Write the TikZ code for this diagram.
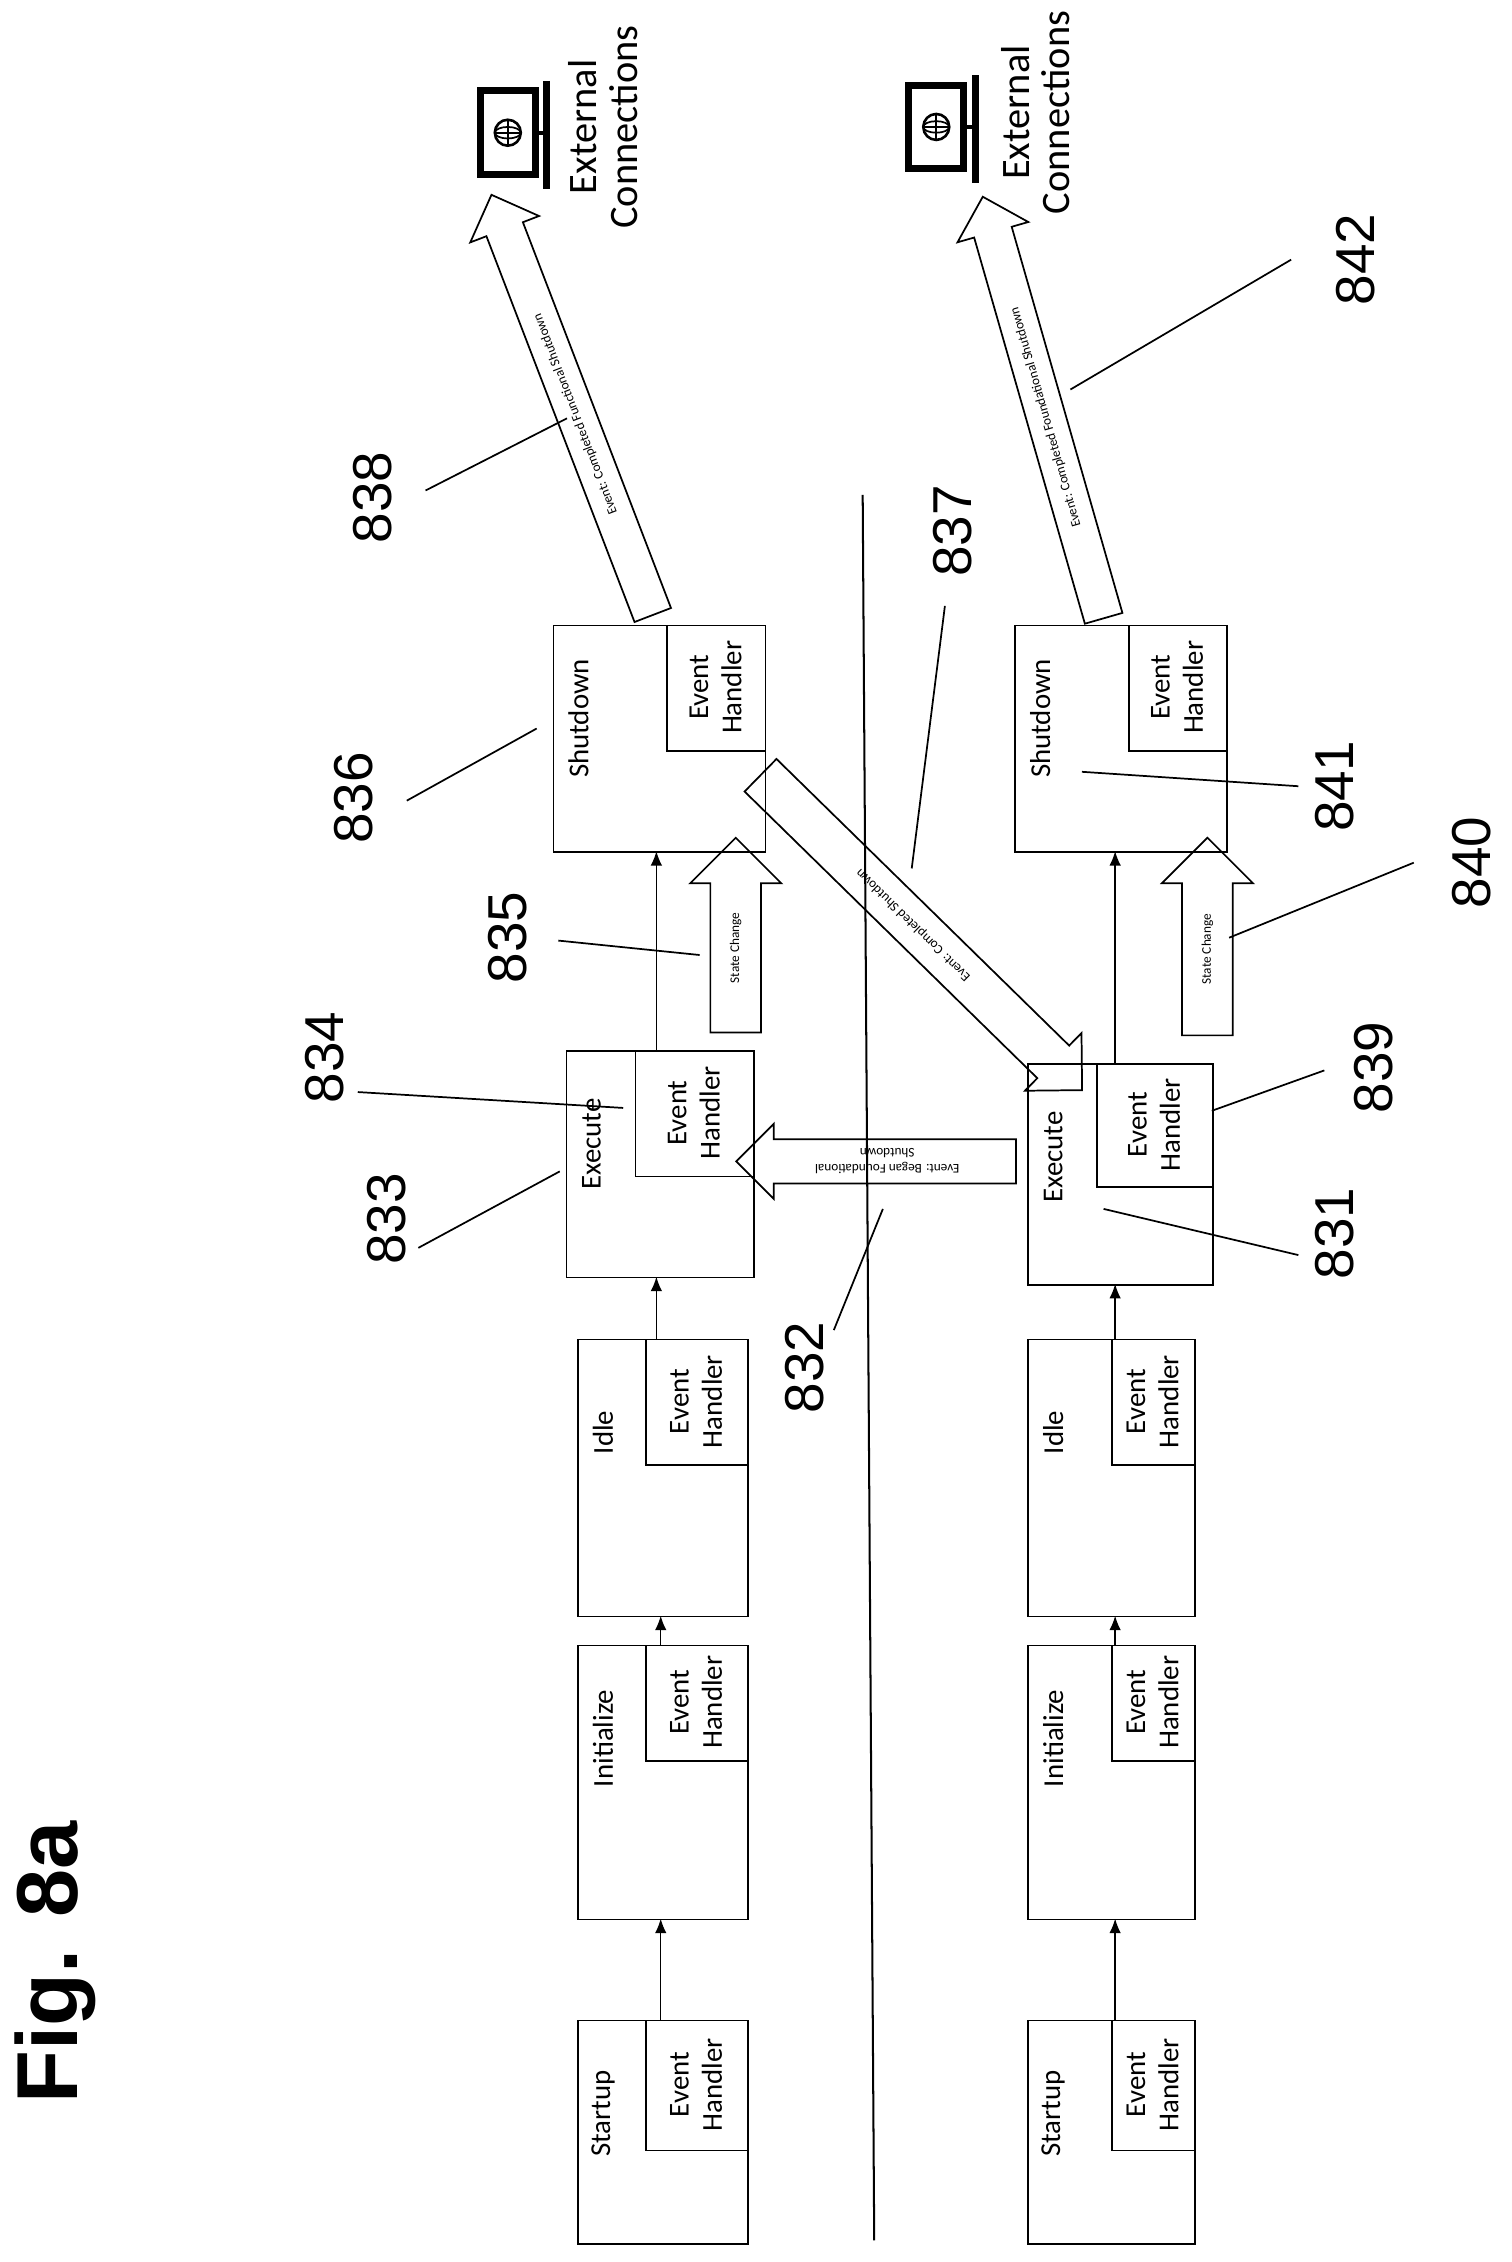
\documentclass[tikz,border=0pt]{standalone}
\usepackage{fontspec}
\setmainfont{Carlito}
\newfontfamily\numfont{Liberation Sans}
\usetikzlibrary{shapes.arrows,arrows.meta}
\begin{document}
\begin{tikzpicture}[x=0.5pt,y=-0.5pt,
  box/.style={draw,line width=0.6pt,inner sep=0,anchor=north west},
  lbl/.style={rotate=90,font=\fontsize{10}{11}\selectfont},
  eh/.style={rotate=90,font=\fontsize{10}{11.5}\selectfont,align=center},
  num/.style={rotate=90,font=\numfont\fontsize{19}{20}\selectfont},
  lead/.style={line width=0.6pt},
  conn/.style={line width=0.5pt,-{Latex[length=5pt,width=4pt]}},
  harrow/.style={single arrow,draw,line width=0.6pt,inner xsep=2pt,
     font=\fontsize{4.6}{5.5}\selectfont,align=center}
]
\useasboundingbox (0,0) rectangle (1048,1568);
\newcommand\stbox[8]{%
  \node[box,minimum width={(#4-#2)*0.5pt},minimum height={(#5-#3)*0.5pt}] (#1) at (#2,#3) {};
  \node[box,minimum width={(#4-#6)*0.5pt},minimum height={(#7-#3)*0.5pt}] (#1h) at (#6,#3) {};
  \node[lbl] (#1l) at (#2+18,#3+65) {#8};
  \node[eh] (#1t) at ({(#6+#4)/2},{(#3+#7)/2}) {Event\\Handler};
}
\stbox{s1}{400}{1400}{518}{1555}{447}{1490}{Startup}
\stbox{i1}{400}{1140}{518}{1330}{447}{1220}{Initialize}
\stbox{d1}{400}{928}{518}{1120}{447}{1015}{Idle}
\stbox{e1}{392}{728}{522}{885}{440}{815}{Execute}
\stbox{h1}{383}{433}{530}{590}{462}{520}{Shutdown}
\stbox{s2}{712}{1400}{828}{1555}{770}{1490}{Startup}
\stbox{i2}{712}{1140}{828}{1330}{770}{1220}{Initialize}
\stbox{d2}{712}{928}{828}{1120}{770}{1015}{Idle}
\stbox{e2}{712}{737}{840}{890}{760}{822}{Execute}
\stbox{h2}{703}{433}{850}{590}{782}{520}{Shutdown}
\draw[conn] (458,1400) -- (458,1330);
\draw[conn] (458,1140) -- (458,1120);
\draw[conn] (455,928) -- (455,885);
\draw[conn] (455,728) -- (455,590);
\draw[conn] (773,1400) -- (773,1330);
\draw[conn] (773,1140) -- (773,1120);
\draw[conn] (773,928) -- (773,890);
\draw[conn] (773,737) -- (773,590);
\draw[line width=0.7pt] (598,343) -- (606,1553);
\node[harrow,rotate=90,minimum height=67.5pt,minimum width=30pt,single arrow head extend=7pt,inner ysep=6.5pt] (sc1) at (510,657) {State Change};
\node[harrow,rotate=90,minimum height=68.5pt,minimum width=30pt,single arrow head extend=7pt,inner ysep=6.5pt] (sc2) at (837,658) {State Change};
\node[harrow,rotate=180,minimum height=97pt,minimum width=26pt,single arrow head extend=5pt,inner ysep=2.5pt] (bf) at (615,805) {Event: Began Foundational\\Shutdown};
\node[harrow,rotate=-44.4,minimum height=156pt,minimum width=28pt,single arrow head extend=6pt,inner ysep=5.5pt] (cs) at (633,641) {\rotatebox{180}{Event: Completed Shutdown}};
\node[harrow,rotate=111,minimum height=156pt,minimum width=25pt,single arrow head extend=6pt,inner ysep=4.5pt] (ef) at (399,287) {Event: Completed Functional Shutdown};
\node[harrow,rotate=106,minimum height=152pt,minimum width=25pt,single arrow head extend=6pt,inner ysep=4.5pt] (eo) at (725,289) {Event: Completed Foundational Shutdown};
\newcommand\icon[3]{%
  \draw[line width=2.5pt] (#1,#2) rectangle (#1+38,#2+58);
  \draw[line width=2.5pt] (#1+46,#2-7) -- (#1+46,#2+68);
  \draw[line width=1.5pt] (#1+38,#2+29) -- (#1+46,#2+29);
  \draw[line width=0.9pt] (#1+19,#2+29) circle (9);
  \draw[line width=0.7pt] (#1+10,#2+29) -- (#1+28,#2+29) (#1+19,#2+20) -- (#1+19,#2+38);
  \draw[line width=0.6pt] (#1+19,#2+29) ellipse (9 and 4);
  \coordinate (#3) at (#1+19,#2+29);
}
\icon{333}{63}{ic1}
\icon{630}{59}{ic2}
\node[rotate=90,align=center,font=\fontsize{14}{14}\selectfont] (ex1) at (418,88) {External\\Connections};
\node[rotate=90,align=center,font=\fontsize{14}{14}\selectfont] (ex2) at (718,78) {External\\Connections};
\node[rotate=90,font=\numfont\bfseries\fontsize{30}{30}\selectfont] (fig) at (38,1360) {Fig. 8a};
\node[num] (n838) at (258,345) {838};
\node[num] (n836) at (245,553) {836};
\node[num] (n835) at (352,650) {835};
\node[num] (n834) at (225,733) {834};
\node[num] (n833) at (268,845) {833};
\node[num] (n832) at (558,948) {832};
\node[num] (n837) at (660,368) {837};
\node[num] (n842) at (940,180) {842};
\node[num] (n841) at (925,545) {841};
\node[num] (n840) at (1020,598) {840};
\node[num] (n839) at (952,740) {839};
\node[num] (n831) at (925,855) {831};
\draw[lead] (295,340) -- (393,290);
\draw[lead] (282,555) -- (372,505);
\draw[lead] (387,652) -- (485,662);
\draw[lead] (248,757) -- (432,768);
\draw[lead] (290,865) -- (388,812);
\draw[lead] (578,922) -- (612,838);
\draw[lead] (655,420) -- (632,602);
\draw[lead] (895,180) -- (742,270);
\draw[lead] (900,545) -- (750,535);
\draw[lead] (980,598) -- (852,650);
\draw[lead] (918,742) -- (840,770);
\draw[lead] (900,870) -- (765,838);
\end{tikzpicture}
\end{document}
